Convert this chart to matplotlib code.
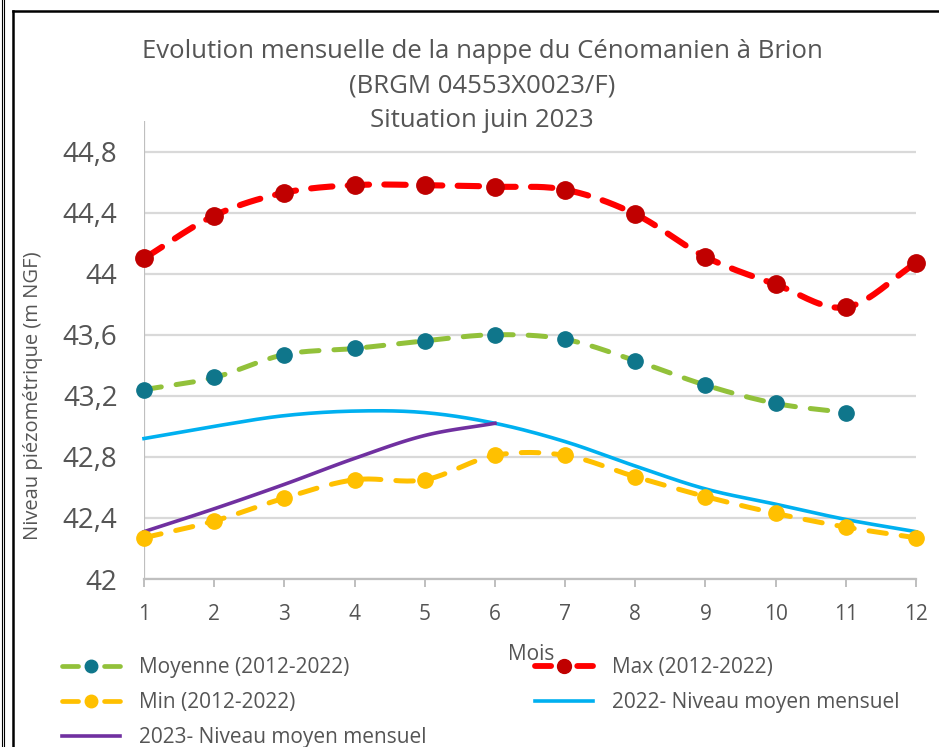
import numpy as np
import matplotlib
matplotlib.use("Agg")
import matplotlib.pyplot as plt
from matplotlib.lines import Line2D

plt.rcParams['font.family'] = ['Open Sans', 'DejaVu Sans']

months = [1, 2, 3, 4, 5, 6, 7, 8, 9, 10, 11, 12]
moyenne = [43.24, 43.32, 43.47, 43.51, 43.56, 43.60, 43.57, 43.43, 43.27, 43.15, 43.09]
maxi = [44.10, 44.38, 44.53, 44.58, 44.58, 44.57, 44.55, 44.39, 44.11, 43.93, 43.78, 44.07]
mini = [42.27, 42.38, 42.53, 42.65, 42.65, 42.81, 42.81, 42.67, 42.54, 42.43, 42.34, 42.27]
niv2022 = [42.92, 43.00, 43.07, 43.10, 43.09, 43.02, 42.90, 42.74, 42.59, 42.49, 42.39, 42.31]
niv2023 = [42.31, 42.46, 42.62, 42.79, 42.94, 43.02]
yticks = [42, 42.4, 42.8, 43.2, 43.6, 44, 44.4, 44.8]
ytick_labels = ["42", "42,4", "42,8", "43,2", "43,6", "44", "44,4", "44,8"]

title = "Evolution mensuelle de la nappe du Cénomanien à Brion\n(BRGM 04553X0023/F)\nSituation juin 2023"


def smooth(x, y, n=20):
    """Catmull-Rom smoothing of a polyline (render-only, like Excel smoothed lines)."""
    x = np.asarray(x, float)
    y = np.asarray(y, float)
    px = np.concatenate([[2 * x[0] - x[1]], x, [2 * x[-1] - x[-2]]])
    py = np.concatenate([[2 * y[0] - y[1]], y, [2 * y[-1] - y[-2]]])
    xs, ys = [], []
    t = np.linspace(0, 1, n, endpoint=False)
    for i in range(1, len(px) - 2):
        p0, p1, p2, p3 = (np.array([px[j], py[j]]) for j in range(i - 1, i + 3))
        t2, t3 = t * t, t * t * t
        pts = 0.5 * ((2 * p1)[:, None] + (-p0 + p2)[:, None] * t
                     + (2 * p0 - 5 * p1 + 4 * p2 - p3)[:, None] * t2
                     + (-p0 + 3 * p1 - 3 * p2 + p3)[:, None] * t3)
        xs.extend(pts[0]); ys.extend(pts[1])
    xs.append(x[-1]); ys.append(y[-1])
    return np.array(xs), np.array(ys)


fig = plt.figure(figsize=(9.39, 7.47), dpi=100)
ax = fig.add_axes([144 / 939, 1 - 579 / 747, (916 - 144) / 939, (579 - 121) / 747])

text_col = "#555555"
grid_col = "#D9D9D9"

ax.set_ylim(42, 45)
ax.set_xlim(1, 12)
ax.set_yticks(yticks)
ax.set_yticklabels(ytick_labels, fontsize=20, color=text_col)
ax.set_xticks(months)
ax.set_xticklabels([str(m) for m in months], fontsize=15, color=text_col)
ax.yaxis.grid(True, color=grid_col, linewidth=1.6)
ax.set_axisbelow(True)
for s in ["top", "right", "left"]:
    ax.spines[s].set_visible(False)
ax.spines["bottom"].set_color("#BFBFBF")
ax.spines["bottom"].set_linewidth(1.6)
ax.tick_params(axis="y", length=0, pad=19)
ax.tick_params(axis="x", length=6, width=1.4, color="#BFBFBF", pad=12)
ax.axvline(1, color="#BFBFBF", linewidth=1.6, zorder=1)

# series
x_m = months[:len(moyenne)]
sx, sy = smooth(x_m, moyenne)
ax.plot(sx, sy, color="#92C13A", linewidth=3.6, dashes=(3.5, 3), dash_capstyle="round",
        clip_on=False, zorder=3)
ax.plot(x_m, moyenne, linestyle="none", marker="o", markersize=11, color="#0F768B",
        clip_on=False, zorder=4)

sx, sy = smooth(months, maxi)
ax.plot(sx, sy, color="#FF0000", linewidth=4.4, dashes=(3.5, 2.5), dash_capstyle="round",
        clip_on=False, zorder=3)
ax.plot(months, maxi, linestyle="none", marker="o", markersize=12.5, color="#C00000",
        clip_on=False, zorder=4)

sx, sy = smooth(months, mini)
ax.plot(sx, sy, color="#FFC000", linewidth=3.6, dashes=(3.5, 3), dash_capstyle="round",
        clip_on=False, zorder=3)
ax.plot(months, mini, linestyle="none", marker="o", markersize=11, color="#FFC000",
        clip_on=False, zorder=4)

sx, sy = smooth(months, niv2022)
ax.plot(sx, sy, color="#00B0F0", linewidth=2.6, clip_on=False, zorder=3)

x23 = months[:len(niv2023)]
sx, sy = smooth(x23, niv2023)
ax.plot(sx, sy, color="#7030A0", linewidth=2.6, clip_on=False, zorder=3)

# labels
fig.text(33 / 939, 1 - 396 / 747, "Niveau piézométrique (m NGF)", fontsize=14.5, color=text_col,
         rotation=90, ha="center", va="center")
fig.text(531 / 939, 1 - 654 / 747, "Mois", fontsize=15, color=text_col, ha="center", va="center")
fig.text(482 / 939, 1 - 86 / 747, title, fontsize=18.5, color=text_col, ha="center", va="center",
         linespacing=1.5)

# legend (row-wise order for ncol=2)
h_moy = Line2D([], [], color="#92C13A", linewidth=3.4, dashes=(3.4, 5.5), dash_capstyle="round",
               marker="o", markersize=9,
               markerfacecolor="#0F768B", markeredgecolor="#0F768B")
h_max = Line2D([], [], color="#FF0000", linewidth=4.2, dashes=(2.76, 4.48), dash_capstyle="round",
               marker="o", markersize=10,
               markerfacecolor="#C00000", markeredgecolor="#C00000")
h_min = Line2D([], [], color="#FFC000", linewidth=3.4, dashes=(3.4, 5.5), dash_capstyle="round",
               marker="o", markersize=9,
               markerfacecolor="#FFC000", markeredgecolor="#FFC000")
h_22 = Line2D([], [], color="#00B0F0", linewidth=2.6)
h_23 = Line2D([], [], color="#7030A0", linewidth=2.6)
handles = [h_moy, h_min, h_23, h_max, h_22]
labels = ["Moyenne (2012-2022)", "Min (2012-2022)", "2023- Niveau moyen mensuel",
          "Max (2012-2022)", "2022- Niveau moyen mensuel"]
leg = fig.legend(handles, labels, ncol=2, loc="upper left",
                 bbox_to_anchor=(62 / 939, 1 - 657 / 747), frameon=False,
                 fontsize=15, labelcolor=text_col, handlelength=2.8, handletextpad=0.9,
                 columnspacing=5.2, labelspacing=0.68, borderaxespad=0, borderpad=0)

# frame lines
fig.add_artist(Line2D([13 / 939, 13 / 939], [0, 1 - 11 / 747], transform=fig.transFigure,
                      color="black", linewidth=1.8))
fig.add_artist(Line2D([13 / 939, 1], [1 - 11 / 747, 1 - 11 / 747], transform=fig.transFigure,
                      color="black", linewidth=1.8))
fig.add_artist(Line2D([1.5 / 939, 1.5 / 939], [0, 1], transform=fig.transFigure,
                      color="black", linewidth=0.8))
fig.add_artist(Line2D([4 / 939, 4 / 939], [0, 1], transform=fig.transFigure,
                      color="black", linewidth=0.8))

fig.savefig("out.png", dpi=100)
